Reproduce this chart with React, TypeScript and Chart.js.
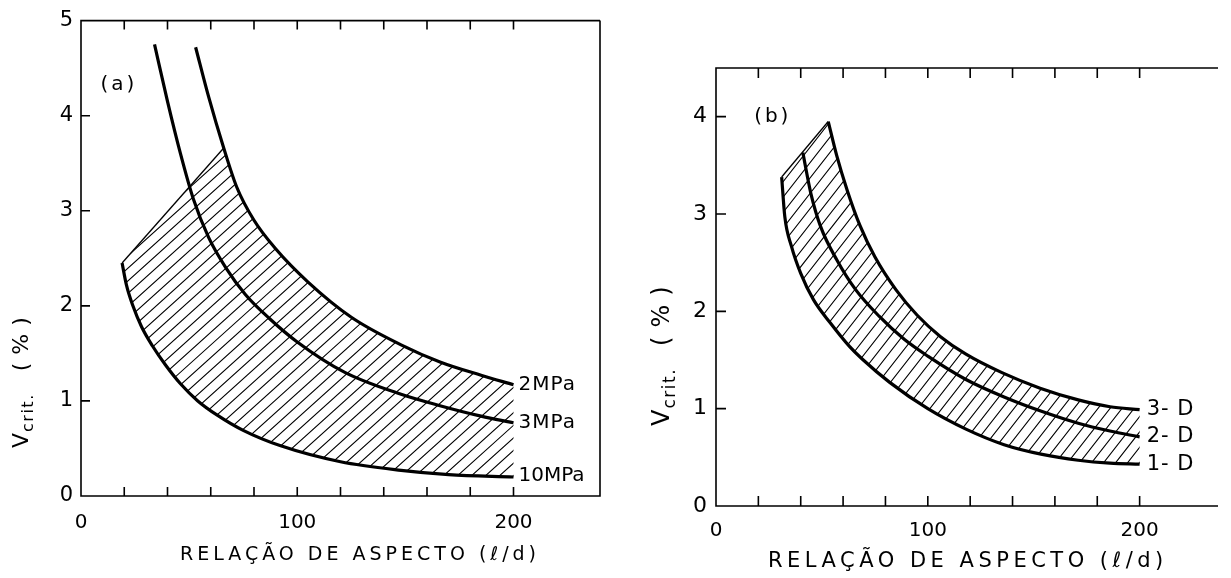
import React, { useEffect, useRef } from 'react';
import { Chart, registerables } from 'chart.js';

Chart.register(...registerables);

const FONT = '"DejaVu Sans", "Liberation Sans", sans-serif';

// ---------- Panel (a) data ----------
const curve2MPa: number[][] = [[53, 4.72], [59, 4.2], [66, 3.66], [72, 3.25], [80, 2.9], [90, 2.6], [105, 2.25], [125, 1.88], [148, 1.59], [166, 1.41], [185, 1.27], [200, 1.17]];
const curve3MPa: number[][] = [[34, 4.75], [40, 4.15], [46, 3.6], [52, 3.12], [59, 2.72], [67, 2.4], [76, 2.12], [87, 1.87], [100, 1.62], [122, 1.3], [148, 1.07], [166, 0.95], [185, 0.84], [200, 0.77]];
const curve10MPa: number[][] = [[19, 2.45], [21, 2.22], [24, 2.0], [28, 1.78], [33, 1.58], [39, 1.38], [46, 1.18], [54, 1.0], [63, 0.85], [75, 0.69], [92, 0.53], [120, 0.36], [148, 0.27], [170, 0.225], [200, 0.2]];
const hatchEdgeA: number[][] = [[19, 2.45], [66, 3.66]];
const seriesLabelsA = ['2MPa', '3MPa', '10MPa'];

// ---------- Panel (b) data ----------
const curve3D: number[][] = [[53, 3.95], [57, 3.6], [62, 3.24], [68, 2.88], [75, 2.56], [85, 2.22], [95, 1.96], [106, 1.74], [118, 1.56], [135, 1.37], [153, 1.21], [171, 1.09], [186, 1.02], [200, 0.99]];
const curve2D: number[][] = [[41, 3.63], [44.8, 3.21], [49.4, 2.87], [57, 2.53], [66, 2.22], [77, 1.95], [89, 1.71], [100, 1.54], [118, 1.3], [136, 1.12], [154, 0.97], [171, 0.85], [186, 0.77], [200, 0.71]];
const curve1D: number[][] = [[31, 3.38], [32.5, 2.97], [35.6, 2.67], [40, 2.39], [46, 2.12], [54, 1.88], [63, 1.64], [69, 1.51], [82, 1.27], [100, 1.0], [118, 0.79], [136, 0.63], [154, 0.53], [171, 0.47], [186, 0.44], [200, 0.43]];
const hatchEdgeB: number[][] = [[31, 3.38], [53, 3.95]];
const seriesLabelsB = ['3- D', '2- D', '1- D'];

// ---------- axes ----------
const xLabeledTicks = [0, 100, 200];
const xMinorTicks = [20, 40, 60, 80, 100, 120, 140, 160, 180, 200];
const yMinorTicks = [1, 2, 3, 4];
const xTitle = 'RELAÇÃO DE ASPECTO (ℓ/d)';

const toXY = (arr: number[][]) => arr.map(([x, y]) => ({ x, y }));
const last = (arr: number[][]) => arr[arr.length - 1];

const hatchPlugin = {
  id: 'hatch',
  beforeDatasetsDraw(chart: any, _args: any, opts: any) {
    if (!opts || !opts.edge) return;
    const { ctx, chartArea, scales } = chart;
    const xs = scales.x, ys = scales.y;
    const upLine = chart.getDatasetMeta(opts.upper).dataset;
    const loLine = chart.getDatasetMeta(opts.lower).dataset;
    upLine.updateControlPoints(chartArea, 'x');
    loLine.updateControlPoints(chartArea, 'x');
    const e0 = { x: xs.getPixelForValue(opts.edge[0][0]), y: ys.getPixelForValue(opts.edge[0][1]) };
    const e1 = { x: xs.getPixelForValue(opts.edge[1][0]), y: ys.getPixelForValue(opts.edge[1][1]) };
    const up = upLine.points, lo = loLine.points;
    const upLast = up[up.length - 1], loLast = lo[lo.length - 1];
    const pick = (p: any) => (Array.isArray(p) ? p[0] : p);
    ctx.save();
    ctx.beginPath();
    ctx.moveTo(e0.x, e0.y);
    ctx.lineTo(e1.x, e1.y);
    for (let px = e1.x + 1; px < upLast.x; px += 1) {
      const p = pick(upLine.interpolate({ x: px }, 'x'));
      if (p) ctx.lineTo(p.x, p.y);
    }
    ctx.lineTo(upLast.x, upLast.y);
    ctx.lineTo(loLast.x, loLast.y);
    for (let px = loLast.x - 1; px > lo[0].x; px -= 1) {
      const p = pick(loLine.interpolate({ x: px }, 'x'));
      if (p) ctx.lineTo(p.x, p.y);
    }
    ctx.lineTo(lo[0].x, lo[0].y);
    ctx.closePath();
    ctx.clip();
    const t = Math.tan((opts.angle * Math.PI) / 180);
    const top = chartArea.top, bot = chartArea.bottom, H = bot - top;
    ctx.beginPath();
    for (let c = chartArea.left - H / t; c < chartArea.right + 5; c += opts.spacing) {
      ctx.moveTo(c, bot);
      ctx.lineTo(c + H / t, top);
    }
    ctx.lineWidth = 1.1;
    ctx.strokeStyle = '#000';
    ctx.stroke();
    ctx.restore();
    ctx.save();
    ctx.beginPath();
    ctx.moveTo(e0.x, e0.y);
    ctx.lineTo(e1.x, e1.y);
    ctx.lineWidth = 1.3;
    ctx.strokeStyle = '#000';
    ctx.stroke();
    ctx.restore();
  },
};

const framePlugin = {
  id: 'frame',
  afterDraw(chart: any, _args: any, opts: any) {
    if (!opts || !opts.on) return;
    const { ctx, chartArea: ca, scales } = chart;
    ctx.save();
    ctx.strokeStyle = '#000';
    ctx.lineWidth = 1.6;
    ctx.beginPath();
    ctx.moveTo(ca.right, ca.top);
    ctx.lineTo(ca.left, ca.top);
    ctx.lineTo(ca.left, ca.bottom);
    ctx.lineTo(ca.right, ca.bottom);
    if (opts.right) ctx.lineTo(ca.right, ca.top);
    ctx.stroke();
    ctx.beginPath();
    for (const v of xMinorTicks) {
      const px = scales.x.getPixelForValue(v);
      ctx.moveTo(px, ca.bottom);
      ctx.lineTo(px, ca.bottom - opts.tickLen);
      ctx.moveTo(px, ca.top);
      ctx.lineTo(px, ca.top + opts.tickLen);
    }
    for (const v of yMinorTicks) {
      const py = scales.y.getPixelForValue(v);
      ctx.moveTo(ca.left, py);
      ctx.lineTo(ca.left + opts.tickLen, py);
    }
    ctx.stroke();
    ctx.restore();
  },
};

const notesPlugin = {
  id: 'notes',
  afterDraw(chart: any, _args: any, opts: any) {
    if (!opts || !opts.items) return;
    const { ctx, scales } = chart;
    ctx.save();
    ctx.fillStyle = '#000';
    for (const it of opts.items) {
      ctx.font = `${it.size}px ${FONT}`;
      (ctx as any).letterSpacing = `${it.spacing || 0}px`;
      ctx.textAlign = it.align || 'left';
      ctx.textBaseline = 'middle';
      const px = scales.x.getPixelForValue(it.x) + (it.dx || 0);
      const py = scales.y.getPixelForValue(it.y) + (it.dy || 0);
      ctx.fillText(it.text, px, py);
    }
    // x-axis title
    const xt = opts.xTitle;
    ctx.font = `${xt.size}px ${FONT}`;
    (ctx as any).letterSpacing = `${xt.spacing}px`;
    ctx.textAlign = 'left';
    ctx.textBaseline = 'middle';
    ctx.fillText(xTitle, xt.x, xt.y);
    // y-axis title: V_crit. (%)
    const yt = opts.yTitle;
    ctx.translate(yt.x, yt.y);
    ctx.rotate(-Math.PI / 2);
    (ctx as any).letterSpacing = '0px';
    ctx.textAlign = 'left';
    ctx.textBaseline = 'middle';
    ctx.font = `${yt.size}px ${FONT}`;
    ctx.fillText('V', 0, 0);
    let w = ctx.measureText('V').width;
    ctx.font = `${Math.round(yt.size * 0.72)}px ${FONT}`;
    (ctx as any).letterSpacing = '1.5px';
    ctx.fillText('crit.', w + 1, yt.size * 0.32);
    w += 1 + ctx.measureText('crit.').width + yt.gap;
    ctx.font = `${yt.size}px ${FONT}`;
    (ctx as any).letterSpacing = `${yt.pctSpacing}px`;
    ctx.fillText('(%)', w, 0);
    ctx.restore();
  },
};

const lineDs = (label: string, arr: number[][]) => ({
  label,
  data: toXY(arr),
  borderColor: '#000',
  borderWidth: 3.2,
  pointRadius: 0,
  cubicInterpolationMode: 'monotone' as const,
  fill: false,
});

function makeScales(xMax: number, yMax: number, xHeight: number, yWidth: number, xFont: number, yFont: number, xPad: number, yPad: number) {
  return {
    x: {
      type: 'linear' as const,
      min: 0,
      max: xMax,
      afterFit: (s: any) => { s.height = xHeight; },
      grid: { display: false, drawTicks: false },
      border: { display: false },
      ticks: {
        stepSize: 20,
        autoSkip: false,
        maxRotation: 0,
        padding: xPad,
        color: '#000',
        font: { family: FONT, size: xFont },
        callback: (v: any) => (xLabeledTicks.includes(Number(v)) ? String(v) : ''),
      },
    },
    y: {
      type: 'linear' as const,
      min: 0,
      max: yMax,
      afterFit: (s: any) => { s.width = yWidth; },
      grid: { display: false, drawTicks: false },
      border: { display: false },
      ticks: {
        stepSize: 1,
        padding: yPad,
        color: '#000',
        font: { family: FONT, size: yFont },
        callback: (v: any) => (Number.isInteger(Number(v)) ? String(v) : ''),
      },
    },
  };
}

const configA = () => ({
  type: 'line' as const,
  data: {
    datasets: [lineDs('2MPa', curve2MPa), lineDs('3MPa', curve3MPa), lineDs('10MPa', curve10MPa)],
  },
  options: {
    responsive: false,
    animation: false as const,
    events: [],
    layout: { padding: { top: 19, right: 12, left: 0, bottom: 0 } },
    scales: makeScales(240, 5, 82, 81, 20, 21, 15, 8),
    plugins: {
      legend: { display: false },
      tooltip: { enabled: false },
      hatch: { upper: 0, lower: 2, edge: hatchEdgeA, angle: 42, spacing: 14 },
      frame: { on: true, right: true, tickLen: 9 },
      notes: {
        items: [
          { text: seriesLabelsA[0], x: last(curve2MPa)[0], y: last(curve2MPa)[1], dx: 5, size: 20, spacing: 1 },
          { text: seriesLabelsA[1], x: last(curve3MPa)[0], y: last(curve3MPa)[1], dx: 5, size: 20, spacing: 1 },
          { text: seriesLabelsA[2], x: last(curve10MPa)[0], y: last(curve10MPa)[1], dx: 5, dy: -1, size: 20, spacing: 0 },
          { text: '(a)', x: 9, y: 4.33, size: 20, spacing: 3 },
        ],
        xTitle: { x: 180, y: 555, size: 19, spacing: 4 },
        yTitle: { x: 22, y: 448, size: 22, gap: 22, pctSpacing: 8 },
      },
    },
  },
  plugins: [hatchPlugin, framePlugin, notesPlugin],
});

const configB = () => ({
  type: 'line' as const,
  data: {
    datasets: [lineDs('3-D', curve3D), lineDs('2-D', curve2D), lineDs('1-D', curve1D)],
  },
  options: {
    responsive: false,
    animation: false as const,
    events: [],
    layout: { padding: { top: 68, right: 0, left: 0, bottom: 0 } },
    scales: makeScales(237, 4.5, 72, 101, 20, 22, 13, 9),
    plugins: {
      legend: { display: false },
      tooltip: { enabled: false },
      hatch: { upper: 0, lower: 2, edge: hatchEdgeB, angle: 52, spacing: 12 },
      frame: { on: true, right: false, tickLen: 10 },
      notes: {
        items: [
          { text: seriesLabelsB[0], x: last(curve3D)[0], y: last(curve3D)[1], dx: 7, size: 21, spacing: 1 },
          { text: seriesLabelsB[1], x: last(curve2D)[0], y: last(curve2D)[1], dx: 7, size: 21, spacing: 1 },
          { text: seriesLabelsB[2], x: last(curve1D)[0], y: last(curve1D)[1], dx: 7, size: 21, spacing: 1 },
          { text: '(b)', x: 18, y: 4.0, size: 20, spacing: 3 },
        ],
        xTitle: { x: 153, y: 562, size: 21, spacing: 4.5 },
        yTitle: { x: 48, y: 426, size: 24, gap: 22, pctSpacing: 9 },
      },
    },
  },
  plugins: [hatchPlugin, framePlugin, notesPlugin],
});

function Panel({ left, width, make }: { left: number; width: number; make: () => any }) {
  const ref = useRef<HTMLCanvasElement | null>(null);
  useEffect(() => {
    if (!ref.current) return;
    const chart = new Chart(ref.current, make());
    return () => chart.destroy();
  }, [make]);
  return (
    <canvas
      ref={ref}
      width={width}
      height={578}
      style={{ position: 'absolute', left, top: 0, width, height: 578 }}
    />
  );
}

export default function App() {
  return (
    <div style={{ position: 'absolute', left: 0, top: 0, width: 1231, height: 578, background: '#fff', overflow: 'hidden' }}>
      <Panel left={0} width={615} make={configA} />
      <Panel left={615} width={616} make={configB} />
    </div>
  );
}
